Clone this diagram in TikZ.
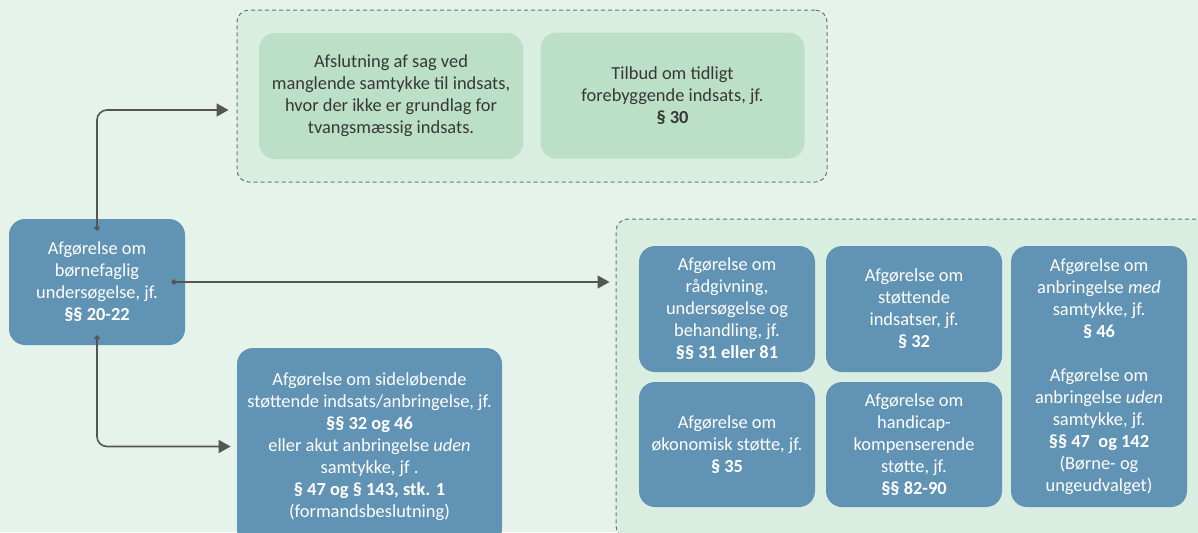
\documentclass[tikz,border=0pt]{standalone}
\usepackage{fontspec}
\setmainfont{Carlito}
\usepackage{xcolor}
\usetikzlibrary{arrows.meta}

\definecolor{bggreen}{RGB}{230,243,235}
\definecolor{grpgreen}{RGB}{218,237,225}
\definecolor{boxgreen}{RGB}{188,223,200}
\definecolor{boxblue}{RGB}{97,147,181}
\definecolor{linegray}{RGB}{85,85,85}
\definecolor{textgray}{RGB}{55,55,55}

\tikzset{
	txt/.style={font=\fontsize{9.2}{11}\selectfont, align=center, inner sep=0pt},
	bluebox/.style={txt, rectangle, rounded corners=8pt, fill=boxblue, text=white, minimum width=88pt, minimum height=63pt},
	greenbox/.style={txt, rectangle, rounded corners=8pt, fill=boxgreen, text=textgray, minimum width=132pt, minimum height=63pt},
	group/.style={rectangle, draw=black!55, line width=0.5pt, dash pattern=on 2pt off 1.5pt, fill=grpgreen, rounded corners=6pt, inner sep=0pt},
	link/.style={draw=linegray, line width=0.8pt, rounded corners=5pt, {Circle[length=2.6pt]}-{Triangle[length=6pt,width=6.5pt]}},
}

\begin{document}
\begin{tikzpicture}[x=0.5pt, y=-0.5pt]
		\clip (0,0) rectangle (1198,532);
		\fill [bggreen] (0,0) rectangle (1198,532);
		
		\node [group, minimum width=295pt, minimum height=86pt] (topgrp) at (532,96) {};
		\node [group, minimum width=303pt, minimum height=159.5pt] (botgrp) at (919,378.5) {};
		
		\node [greenbox] (afslut) at (391,96) {Afslutning af sag ved\\manglende samtykke til indsats,\\hvor der ikke er grundlag for\\tvangsmæssig indsats.};
		\node [greenbox] (tilbud) at (672.5,95.5) {Tilbud om tidligt\\forebyggende indsats, jf.\\\textbf{§ 30}};
		
		\node [bluebox] (undersoeg) at (97,282) {Afgørelse om\\børnefaglig\\undersøgelse, jf.\\\textbf{§§ 20-22}};
		
		\node [bluebox, minimum width=132.5pt, minimum height=98.5pt] (sidelob) at (369.5,446.5) {Afgørelse om sideløbende\\støttende indsats/anbringelse, jf.\\\textbf{§§ 32 og 46}\\eller akut anbringelse \emph{uden}\\samtykke, jf .\\\textbf{§ 47 og § 143, stk. 1}\\(formandsbeslutning)};
		
		\node [bluebox] (raad) at (727,309) {Afgørelse om\\rådgivning,\\undersøgelse og\\behandling, jf.\\\textbf{§§ 31 eller 81}};
		\node [bluebox] (stoet) at (914,309) {Afgørelse om\\støttende\\indsatser, jf.\\\textbf{§ 32}};
		\node [bluebox, minimum height=130.5pt] (anbr) at (1099,376.5) {Afgørelse om\\anbringelse \emph{med}\\samtykke, jf.\\\textbf{§ 46}\\[11pt]Afgørelse om\\anbringelse \emph{uden}\\samtykke, jf.\\\textbf{§§ 47 \ og 142}\\(Børne- og\\ungeudvalget)};
		\node [bluebox, minimum height=62.5pt] (oekon) at (727,444.5) {Afgørelse om\\økonomisk støtte, jf.\\\textbf{§ 35}};
		\node [bluebox, minimum height=62.5pt] (handi) at (914,444.5) {Afgørelse om\\handicap-\\kompenserende\\støtte, jf.\\\textbf{§§ 82-90}};
		
		\draw [link] ([yshift=-6pt]undersoeg.north) |- ([xshift=-4pt,yshift=-7pt]topgrp.west);
		\draw [link] ([xshift=-7pt]undersoeg.east) -- ([xshift=-3pt]botgrp.west |- undersoeg.east);
		\draw [link] ([yshift=5pt]undersoeg.south) |- ([xshift=-3pt]sidelob.west);
\end{tikzpicture}
\end{document}
